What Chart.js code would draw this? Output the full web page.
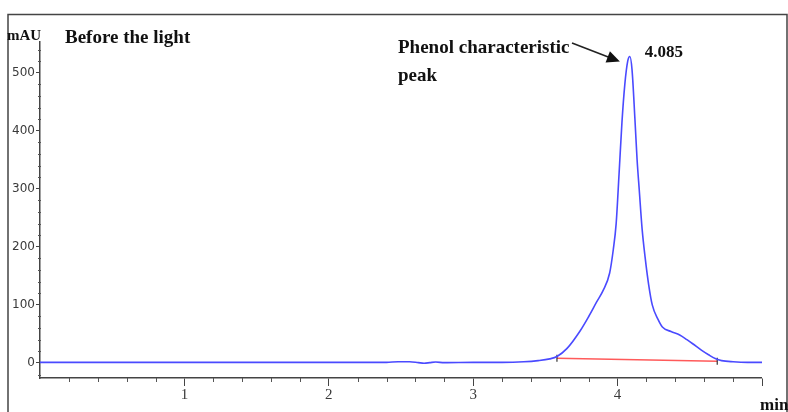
<!DOCTYPE html>
<html>
<head>
<meta charset="utf-8">
<script src="https://cdn.jsdelivr.net/npm/chart.js@4.4.1/dist/chart.umd.min.js"></script>
<style>
html,body{margin:0;padding:0;background:#fff;}
#wrap{width:788px;height:412px;position:relative;}
</style>
</head>
<body>
<div id="wrap"><canvas id="c" width="788" height="412"></canvas></div>
<script>
// ---- data ----
const timeMin = [0, 0.5, 1.0, 1.5, 2.0, 2.4, 2.48, 2.56, 2.62, 2.66, 2.7, 2.74, 2.8, 3.0, 3.2, 3.35, 3.45, 3.53, 3.58, 3.65, 3.74, 3.80, 3.855, 3.90, 3.945, 3.97, 3.99, 4.01, 4.03, 4.05, 4.07, 4.085, 4.10, 4.12, 4.135, 4.15, 4.17, 4.19, 4.215, 4.24, 4.28, 4.31, 4.37, 4.43, 4.48, 4.52, 4.58, 4.63, 4.68, 4.72, 4.8, 4.9, 5.0];
const signalMAU = [1, 1, 1, 1, 1, 1, 2, 2, 0.5, -0.5, 0.5, 1.5, 0.5, 1, 1, 2, 4, 7, 11, 25, 55, 80, 105, 125, 155, 195, 240, 325, 414, 480, 520, 528, 505, 420, 350, 298, 230, 183, 135, 100, 75, 62, 54, 48, 40, 33, 22, 14, 7, 4, 2, 1, 1];
const baselineTime = [3.58, 4.69];
const baselineMAU = [8, 3];
const peakTime = 4.085;
const peakMAU = 528;
const peakLabel = "4.085";
const yTicks = [0, 100, 200, 300, 400, 500];
const xTicks = [1, 2, 3, 4];

const serif = '"Liberation Serif", "Times New Roman", serif';

const decor = {
  id: 'decor',
  afterDraw(chart) {
    const ctx = chart.ctx;
    const xs = chart.scales.x, ys = chart.scales.y;
    ctx.save();
    // frame
    ctx.strokeStyle = '#444';
    ctx.lineWidth = 1.5;
    ctx.beginPath();
    ctx.moveTo(8, 412); ctx.lineTo(8, 14.5); ctx.lineTo(787, 14.5); ctx.lineTo(787, 412);
    ctx.stroke();
    // minor ticks
    ctx.strokeStyle = '#555';
    ctx.lineWidth = 1;
    ctx.beginPath();
    for (let v = 0.2; v < 5.0001; v += 0.2) {
      if (Math.abs(v - Math.round(v)) < 1e-6) continue;
      const px = Math.round(xs.getPixelForValue(v)) + 0.5;
      ctx.moveTo(px, xs.top); ctx.lineTo(px, xs.top + 4);
    }
    for (let v = -20; v <= 540; v += 20) {
      if (v % 100 === 0) continue;
      const py = Math.round(ys.getPixelForValue(v)) + 0.5;
      ctx.moveTo(ys.right - 2, py); ctx.lineTo(ys.right + 1, py);
    }
    ctx.stroke();
    // texts
    ctx.fillStyle = '#111';
    ctx.textBaseline = 'alphabetic';
    ctx.textAlign = 'left';
    ctx.font = 'bold 15px ' + serif;
    ctx.fillText('mAU', 7, 40);
    ctx.font = 'bold 19px ' + serif;
    ctx.fillText('Before the light', 65, 43);
    ctx.fillText('Phenol characteristic', 398, 53);
    ctx.fillText('peak', 398, 81);
    const pkx = xs.getPixelForValue(peakTime), pky = ys.getPixelForValue(peakMAU);
    ctx.font = 'bold 17px ' + serif;
    ctx.fillText(peakLabel, pkx + 15, pky);
    ctx.font = 'bold 17px ' + serif;
    ctx.fillText('min', 760, 410);
    // arrow
    const sx = 572, sy = 43, tx = pkx - 10, ty = pky + 5;
    const ang = Math.atan2(ty - sy, tx - sx);
    ctx.strokeStyle = '#222';
    ctx.lineWidth = 1.6;
    ctx.beginPath();
    ctx.moveTo(sx, sy);
    ctx.lineTo(tx - 9 * Math.cos(ang), ty - 9 * Math.sin(ang));
    ctx.stroke();
    ctx.fillStyle = '#111';
    ctx.beginPath();
    ctx.moveTo(tx, ty);
    ctx.lineTo(tx - 13 * Math.cos(ang) + 6 * Math.sin(ang), ty - 13 * Math.sin(ang) - 6 * Math.cos(ang));
    ctx.lineTo(tx - 13 * Math.cos(ang) - 6 * Math.sin(ang), ty - 13 * Math.sin(ang) + 6 * Math.cos(ang));
    ctx.closePath();
    ctx.fill();
    ctx.restore();
  }
};

new Chart(document.getElementById('c'), {
  type: 'line',
  data: {
    datasets: [
      {
        label: 'signal',
        data: timeMin.map((t, i) => ({x: t, y: signalMAU[i]})),
        borderColor: '#4a4aff',
        borderWidth: 1.6,
        pointRadius: 0,
        cubicInterpolationMode: 'monotone',
        fill: false
      },
      {
        label: 'baseline',
        data: baselineTime.map((t, i) => ({x: t, y: baselineMAU[i]})),
        borderColor: '#ff5a5a',
        borderWidth: 1.5,
        pointStyle: 'line',
        rotation: 90,
        pointRadius: 3.5,
        pointBorderColor: '#333',
        pointBorderWidth: 1.2,
        fill: false
      }
    ]
  },
  options: {
    responsive: false,
    animation: false,
    layout: {padding: {left: 0, right: 26, top: 42, bottom: 0}},
    plugins: {legend: {display: false}, tooltip: {enabled: false}},
    scales: {
      x: {
        type: 'linear',
        min: 0, max: 5,
        afterFit(s) { s.height = 34; },
        border: {display: true, color: '#444', width: 1.5},
        grid: {drawOnChartArea: false, tickLength: 8, color: '#444',
               lineWidth: c => (c.tick && c.tick.value === 0 ? 0 : 1)},
        afterBuildTicks(s) { s.ticks = [0, 1, 2, 3, 4, 5].map(v => ({value: v})); },
        ticks: {
          padding: 0,
          color: '#3a3a3a',
          font: {family: serif, size: 15},
          callback: v => (xTicks.includes(v) ? String(v) : '')
        }
      },
      y: {
        type: 'linear',
        min: -26, max: 553,
        afterFit(s) { s.width = 40; },
        border: {display: true, color: '#444', width: 1.5},
        grid: {drawOnChartArea: false, tickLength: 4, color: '#444'},
        afterBuildTicks(s) { s.ticks = yTicks.map(v => ({value: v})); },
        ticks: {
          padding: 1,
          color: '#3a3a3a',
          font: {family: '"DejaVu Sans", Verdana, sans-serif', size: 12}
        }
      }
    }
  },
  plugins: [decor]
});
</script>
</body>
</html>
